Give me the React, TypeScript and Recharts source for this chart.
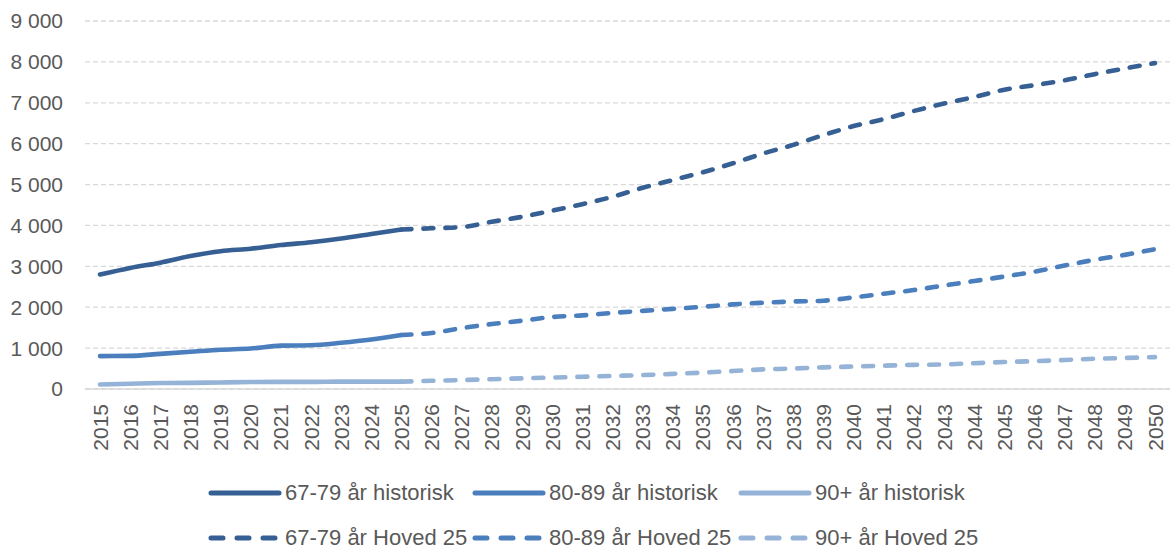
import React from 'react';
import { LineChart, Line, XAxis, YAxis, CartesianGrid, Legend } from 'recharts';

const years = [
    '2015', '2016', '2017', '2018', '2019', '2020', '2021', '2022', '2023', '2024', '2025', '2026',
    '2027', '2028', '2029', '2030', '2031', '2032', '2033', '2034', '2035', '2036', '2037', '2038',
    '2039', '2040', '2041', '2042', '2043', '2044', '2045', '2046', '2047', '2048', '2049', '2050',
];

// 2015-2025
const hist6779 = [2800, 2960, 3090, 3250, 3370, 3430, 3520, 3590, 3680, 3790, 3900];
const hist8089 = [805, 810, 860, 910, 960, 990, 1060, 1070, 1130, 1210, 1320];
const hist90 = [110, 130, 145, 150, 160, 170, 175, 175, 180, 180, 180];

// 2025-2050
const proj6779 = [
    3900, 3930, 3960, 4090, 4210, 4360, 4520, 4700, 4920, 5110, 5300, 5520, 5760,
    5970, 6210, 6430, 6600, 6800, 6980, 7140, 7320, 7430, 7550, 7700, 7840, 7970,
];
const proj8089 = [
    1320, 1370, 1490, 1590, 1670, 1760, 1800, 1860, 1910, 1960, 2010, 2070, 2110,
    2140, 2160, 2240, 2330, 2420, 2530, 2640, 2750, 2870, 3020, 3160, 3280, 3420,
];
const proj90 = [
    180, 200, 220, 240, 260, 280, 300, 320, 340, 370, 400, 440, 480,
    500, 530, 550, 570, 590, 600, 630, 660, 680, 710, 740, 760, 780,
];

const yTicks = [0, 1000, 2000, 3000, 4000, 5000, 6000, 7000, 8000, 9000];

const HIST_END = hist6779.length - 1;

const data = years.map((year, i) => ({
    year,
    h6779: i <= HIST_END ? hist6779[i] : null,
    h8089: i <= HIST_END ? hist8089[i] : null,
    h90: i <= HIST_END ? hist90[i] : null,
    p6779: i >= HIST_END ? proj6779[i - HIST_END] : null,
    p8089: i >= HIST_END ? proj8089[i - HIST_END] : null,
    p90: i >= HIST_END ? proj90[i - HIST_END] : null,
}));

const DARK = '#365f93';
const MID = '#4a7ebd';
const LIGHT = '#95b3d7';
const TEXT = '#595959';
const FONT = '"Liberation Sans", Arial, sans-serif';

const series = [
    { key: 'h6779', name: '67-79 år historisk', color: DARK, dashed: false },
    { key: 'h8089', name: '80-89 år historisk', color: MID, dashed: false },
    { key: 'h90', name: '90+ år historisk', color: LIGHT, dashed: false },
    { key: 'p6779', name: '67-79 år Hoved 25', color: DARK, dashed: true },
    { key: 'p8089', name: '80-89 år Hoved 25', color: MID, dashed: true },
    { key: 'p90', name: '90+ år Hoved 25', color: LIGHT, dashed: true },
];

const formatThousands = (v: number) => {
    if (v === 0) return '0';
    const s = String(v);
    return s.slice(0, s.length - 3) + ' ' + s.slice(s.length - 3);
};

const YearTick = ({ x, y, payload }: any) => (
    <g transform={`translate(${x},${y})`}>
        <text
            x={0}
            y={0}
            dy="0.36em"
            dx={-7}
            textAnchor="end"
            transform="rotate(-90)"
            fill={TEXT}
            fontSize={21}
            fontFamily={FONT}
        >
            {payload.value}
        </text>
    </g>
);

const colX = [208, 472, 738];
const rowY = [33, 78];

const renderLegend = () => (
    <div style={{ position: 'relative', width: 1171, height: 88 }}>
        {series.map((s, i) => {
            const col = i % 3;
            const row = Math.floor(i / 3);
            return (
                <div
                    key={s.key}
                    style={{
                        position: 'absolute',
                        left: colX[col],
                        top: rowY[row] - 14,
                        height: 28,
                        display: 'flex',
                        alignItems: 'center',
                        whiteSpace: 'nowrap',
                    }}
                >
                    <svg width={74} height={10} style={{ display: 'block' }}>
                        <line
                            x1={3}
                            y1={5}
                            x2={71}
                            y2={5}
                            stroke={s.color}
                            strokeWidth={5}
                            strokeLinecap="round"
                            strokeDasharray={s.dashed ? '12 14' : undefined}
                        />
                    </svg>
                    <span style={{ marginLeft: 3, fontSize: 22, color: TEXT, fontFamily: FONT }}>{s.name}</span>
                </div>
            );
        })}
    </div>
);

export default function App() {
    return (
        <div style={{ position: 'absolute', left: 0, top: 0, width: 1171, height: 548, background: '#fff' }}>
            <LineChart width={1171} height={548} data={data} margin={{ top: 21, right: 1, bottom: 0, left: 0 }}>
                <CartesianGrid vertical={false} stroke="#d9d9d9" strokeDasharray="5 3" strokeWidth={1.3} />
                <XAxis
                    dataKey="year"
                    interval={0}
                    height={71}
                    padding={{ left: 15, right: 15 }}
                    tick={<YearTick />}
                    tickLine={false}
                    axisLine={{ stroke: '#d9d9d9', strokeWidth: 1.6 }}
                />
                <YAxis
                    width={85}
                    domain={[0, 9000]}
                    ticks={yTicks}
                    tickFormatter={formatThousands}
                    axisLine={false}
                    tickLine={false}
                    tickSize={0}
                    tickMargin={22}
                    tick={{ fill: TEXT, fontSize: 21, fontFamily: FONT }}
                />
                <Legend verticalAlign="bottom" height={88} content={renderLegend} wrapperStyle={{ left: 0, bottom: 0, width: 1171 }} />
                {series.map((s) => (
                    <Line
                        key={s.key}
                        type="monotone"
                        dataKey={s.key}
                        name={s.name}
                        stroke={s.color}
                        strokeWidth={4.6}
                        strokeLinecap="round"
                        strokeDasharray={s.dashed ? '10 12' : undefined}
                        dot={false}
                        activeDot={false}
                        isAnimationActive={false}
                    />
                ))}
            </LineChart>
        </div>
    );
}
